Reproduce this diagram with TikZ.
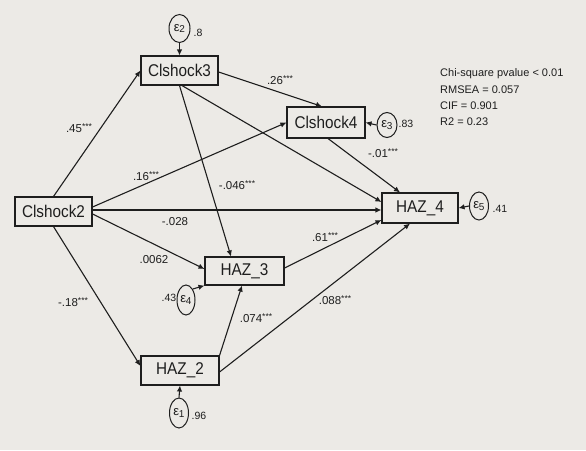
\documentclass[tikz,border=0pt]{standalone}
\usepackage{fontspec}
\setmainfont{Liberation Sans}
\newfontfamily\boxfont[FakeStretch=0.9]{Liberation Sans}
\usetikzlibrary{arrows.meta,shapes.geometric}
\definecolor{paper}{RGB}{236,234,230}
\definecolor{ink}{RGB}{30,30,30}
\newcommand{\stars}{\raisebox{3.2pt}{\fontsize{8.5}{8.5}\selectfont ***}}
\newcommand{\eps}[1]{{\fontsize{13}{13}\selectfont ε}\kern-0.3pt\raisebox{-1.5pt}{\fontsize{10}{10}\selectfont #1}}
\begin{document}
\begin{tikzpicture}[x=1pt,y=-1pt,
  box/.style={draw=ink, line width=1.1pt, fill=paper, inner sep=0pt, text=ink,
              font=\boxfont\fontsize{17}{17}\selectfont},
  err/.style={draw=ink, line width=1pt, ellipse, inner sep=0pt, text=ink,
              minimum width=20pt, minimum height=28pt},
  conn/.style={draw=ink, line width=1.1pt, -{Latex[length=6pt,width=5.5pt]}},
  coef/.style={font=\fontsize{11.5}{11.5}\selectfont, text=ink, inner sep=0pt}]
\fill[paper] (0,0) rectangle (586,450);
\useasboundingbox (0,0) rectangle (586,450);

% boxes
\node[box, minimum width=77pt, minimum height=29pt] (C2) at (53.5,211.5) {Clshock2};
\node[box, minimum width=77pt, minimum height=29pt] (C3) at (179.5,70.5) {Clshock3};
\node[box, minimum width=78pt, minimum height=31pt] (C4) at (326,122.5) {Clshock4};
\node[box, minimum width=76pt, minimum height=30pt] (H4) at (420,208) {HAZ\_4};
\node[box, minimum width=79pt, minimum height=28pt] (H3) at (244.5,271) {HAZ\_3};
\node[box, minimum width=78pt, minimum height=29pt] (H2) at (180,370.5) {HAZ\_2};

% error terms
\node[err, minimum width=21pt] (E2) at (179.5,28.5) {\eps{2}};
\node[err, minimum height=25pt] (E3) at (387,125) {\eps{3}};
\node[err, minimum width=19pt] (E5) at (479,206) {\eps{5}};
\node[err, minimum width=18pt, minimum height=30pt] (E4) at (186,300) {\eps{4}};
\node[err, minimum width=19pt, minimum height=30pt] (E1) at (179,413) {\eps{1}};

\node[coef, font=\fontsize{10.5}{10.5}\selectfont] (v2) at (198,33) {.8};
\node[coef, font=\fontsize{10.5}{10.5}\selectfont] (v3) at (406,124) {.83};
\node[coef, font=\fontsize{10.5}{10.5}\selectfont] (v5) at (500,209) {.41};
\node[coef, font=\fontsize{10.5}{10.5}\selectfont] (v4) at (169,298) {.43};
\node[coef, font=\fontsize{10.5}{10.5}\selectfont] (v1) at (199,416) {.96};

% error arrows
\draw[conn] (E2.south) -- (C3.north);
\draw[conn] (E3.west) -- (C4.east);
\draw[conn] (E5.west) -- (H4.east);
\draw[conn] (E4.north east) -- (H3.south west);
\draw[conn] (E1.north) -- (H2.south);

% structural paths
\draw[conn] (C2.north) -- (C3.west);
\draw[conn] ([yshift=4.5pt]C2.east) -- (C4.west);
\draw[conn] ([yshift=1.5pt]C2.east) -- ([yshift=1.5pt-3.5pt]H4.west);
\draw[conn] ([yshift=-2.5pt]C2.east) -- ([yshift=2pt]H3.west);
\draw[conn] (C2.south) -- ([yshift=4.5pt]H2.west);
\draw[conn] ([yshift=-1.5pt]C3.east) -- ([xshift=-4pt]C4.north);
\draw[conn] (C3.south) -- ([xshift=-13.5pt]H3.north);
\draw[conn] ([xshift=2.5pt]C3.south) -- ([yshift=6pt]H4.west);
\draw[conn] ([xshift=2pt]C4.south) -- ([xshift=-20pt]H4.north);
\draw[conn] ([yshift=3pt]H3.east) -- ([yshift=-12pt]H4.west);
\draw[conn] (H2.north east) -- ([xshift=-2.5pt]H3.south);
\draw[conn] ([yshift=-1.5pt]H2.east) -- ([xshift=-10pt]H4.south);

% coefficients
\node[coef] (k1) at (79,128) {.45\stars};
\node[coef] (k2) at (146,176) {.16\stars};
\node[coef] (k3) at (175,222) {-.028};
\node[coef] (k4) at (154,260) {.0062};
\node[coef] (k5) at (73,302) {-.18\stars};
\node[coef] (k6) at (280,80) {.26\stars};
\node[coef] (k7) at (237,185) {-.046\stars};
\node[coef] (k8) at (383,153) {-.01\stars};
\node[coef] (k9) at (325,237) {.61\stars};
\node[coef] (k10) at (256,318) {.074\stars};
\node[coef] (k11) at (335,300) {.088\stars};

% fit statistics
\node[coef, anchor=west, align=left, font=\fontsize{11}{16.3}\selectfont] (stats) at (440,97.5)
  {Chi-square pvalue < 0.01\\RMSEA = 0.057\\CIF = 0.901\\R2 = 0.23};
\end{tikzpicture}
\end{document}
